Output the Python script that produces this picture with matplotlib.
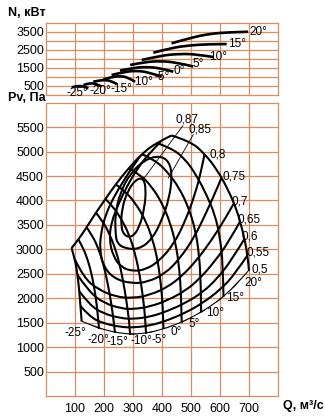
import matplotlib
matplotlib.use('Agg')
import matplotlib.pyplot as plt
from matplotlib.patches import Polygon, PathPatch
from matplotlib.path import Path

plt.rcParams['font.family'] = ['Liberation Sans', 'DejaVu Sans']

GRID = '#DE8B5F'

# ---------------- data ----------------
q_ticks = [100, 200, 300, 400, 500, 600, 700]
p_ticks = [500, 1000, 1500, 2000, 2500, 3000, 3500, 4000, 4500, 5000, 5500]
n_ticks = [500, 1500, 2500, 3500]

angles = ['-25°', '-20°', '-15°', '-10°', '-5°', '0°', '5°', '10°', '15°', '20°']

# power curves N(Q), kW
power_q = [
    [89, 103, 117, 132, 146],
    [129, 143, 158, 175, 192],
    [163, 183, 203, 224, 244],
    [198, 225, 255, 282, 307],
    [226, 270, 313, 356, 399],
    [255, 300, 347, 395, 439],
    [290, 340, 393, 450, 508],
    [330, 395, 462, 520, 577],
    [370, 430, 497, 560, 623],
    [433, 500, 566, 630, 697],
]
power_n = [
    [425, 480, 500, 470, 370],
    [553, 620, 650, 610, 460],
    [735, 800, 830, 780, 610],
    [870, 990, 1050, 980, 735],
    [1105, 1280, 1345, 1250, 1010],
    [1345, 1500, 1560, 1480, 1290],
    [1660, 1820, 1880, 1800, 1580],
    [1935, 2180, 2280, 2250, 2100],
    [2340, 2600, 2750, 2810, 2820],
    [2860, 3170, 3390, 3470, 3500],
]
power_lab = [(109, 138), (186, 221), (259, 332), (334, 719), (400, 995),
             (459, 1327), (524, 1714), (593, 2120), (659, 2820), (731, 3500)]

# pressure curves Pv(Q) per blade angle (from stall line down to the lower envelope)
blade_q = [
    [88, 100, 108, 114, 118, 122, 123],
    [112, 128, 145, 160, 171, 178, 183],
    [140, 160, 180, 198, 213, 225, 233, 238],
    [172, 195, 218, 240, 258, 272, 282, 288, 290],
    [205, 232, 260, 287, 308, 324, 335, 342, 345],
    [240, 275, 310, 343, 368, 386, 397, 403, 405],
    [285, 325, 365, 400, 428, 448, 460, 466, 468],
    [330, 375, 420, 460, 492, 515, 528, 534, 535],
    [380, 430, 480, 520, 555, 583, 600, 610, 612],
    [433, 497, 545, 590, 628, 658, 680, 695, 700],
]
blade_p = [
    [3025, 2800, 2500, 2200, 1900, 1600, 1520],
    [3200, 3030, 2770, 2430, 2050, 1700, 1375],
    [3450, 3280, 3030, 2700, 2300, 1900, 1550, 1295],
    [3750, 3580, 3330, 3000, 2600, 2150, 1750, 1450, 1250],
    [4030, 3870, 3620, 3300, 2900, 2450, 2000, 1600, 1275],
    [4330, 4180, 3930, 3600, 3200, 2750, 2250, 1800, 1370],
    [4660, 4530, 4280, 3950, 3550, 3100, 2600, 2050, 1500],
    [4950, 4830, 4580, 4250, 3850, 3400, 2900, 2300, 1710],
    [5180, 5080, 4850, 4500, 4100, 3700, 3250, 2700, 2030],
    [5330, 5210, 4970, 4630, 4220, 3810, 3340, 2900, 2560],
]
blade_lab = [(103, 1290), (180, 1147), (248, 1106), (328, 1117), (390, 1147),
             (448, 1311), (510, 1475), (583, 1700), (652, 2008), (714, 2315)]

# efficiency contours
eff_names = ['0,5', '0,55', '0,6', '0,65', '0,7', '0,75', '0,8', '0,85', '0,87']
eff_closed = [False, False, False, False, False, False, False, True, True]
eff_q = [
    [123, 180, 240, 300, 360, 420, 480, 540, 600, 650, 700],
    [118, 150, 200, 260, 300, 360, 420, 480, 540, 600, 650, 697],
    [114, 150, 200, 260, 300, 360, 420, 480, 540, 590, 640, 688],
    [108, 150, 200, 260, 300, 360, 420, 480, 530, 580, 630, 672],
    [100, 130, 180, 240, 300, 360, 420, 470, 520, 570, 615, 650],
    [330, 300, 265, 232, 205, 190, 185, 198, 235, 295, 350, 410, 460, 510, 555, 590, 610],
    [395, 355, 315, 280, 250, 225, 218, 232, 260, 300, 345, 390, 440, 482, 515, 535, 548],
    [240, 238, 255, 290, 340, 390, 425, 435, 425, 400, 365, 320, 270, 245],
    [258, 262, 282, 310, 335, 345, 340, 322, 298, 272],
]
eff_p = [
    [1520, 1380, 1290, 1250, 1290, 1390, 1530, 1720, 1960, 2230, 2560],
    [1850, 1620, 1480, 1410, 1400, 1440, 1550, 1700, 1900, 2170, 2480, 2900],
    [2150, 1860, 1680, 1590, 1575, 1620, 1740, 1900, 2120, 2400, 2780, 3250],
    [2480, 2120, 1900, 1790, 1775, 1830, 1960, 2150, 2400, 2740, 3150, 3600],
    [2790, 2420, 2180, 2030, 2000, 2070, 2230, 2460, 2780, 3180, 3600, 3960],
    [4950, 4700, 4380, 4050, 3700, 3350, 3000, 2650, 2400, 2300, 2330, 2500, 2800, 3230, 3780, 4250, 4530],
    [5200, 4960, 4650, 4300, 3930, 3550, 3200, 2850, 2630, 2550, 2590, 2760, 3100, 3600, 4150, 4600, 4980],
    [3300, 3700, 4150, 4550, 4830, 4920, 4800, 4500, 4050, 3600, 3200, 3000, 3020, 3130],
    [3450, 3850, 4200, 4430, 4460, 4250, 3850, 3450, 3250, 3270],
]
eff_lab = [(738, 2582), (731, 2930), (703, 3258), (700, 3606), (669, 3975),
           (648, 4490), (593, 4940), (531, 5450), (485, 5655)]
leader_q = [[508, 422], [472, 335]]
leader_p = [[5350, 4460], [5530, 4430]]


def smooth(qs, ps, closed=False):
    """Quadratic Bezier path using the read points as control points."""
    pts = list(zip(qs, ps))
    n = len(pts)
    mid = lambda a, b: ((a[0] + b[0]) / 2.0, (a[1] + b[1]) / 2.0)
    if closed:
        verts = [mid(pts[-1], pts[0])]
        codes = [Path.MOVETO]
        for i in range(n):
            verts += [pts[i], mid(pts[i], pts[(i + 1) % n])]
            codes += [Path.CURVE3, Path.CURVE3]
        return Path(verts, codes)
    if n < 3:
        return Path(pts)
    verts = [pts[0]]
    codes = [Path.MOVETO]
    for i in range(1, n - 1):
        end = mid(pts[i], pts[i + 1]) if i < n - 2 else pts[-1]
        verts += [pts[i], end]
        codes += [Path.CURVE3, Path.CURVE3]
    return Path(verts, codes)


# ---------------- figure ----------------
fig = plt.figure(figsize=(3.25, 4.19), dpi=100)
W, H = 325.0, 419.0
ax_n = fig.add_axes([46 / W, 1 - 95 / H, 232 / W, 72.3 / H])
ax_p = fig.add_axes([46 / W, 1 - 396 / H, 232 / W, 293.3 / H])


def style(ax, ymax, ystep):
    ax.set_xlim(0, 800)
    ax.set_ylim(0, ymax)
    for x in range(100, 800, 100):
        ax.axvline(x, color=GRID, lw=0.9, zorder=0)
    for y in range(ystep, ymax, ystep):
        ax.axhline(y, color=GRID, lw=0.9, zorder=0)
    for s in ax.spines.values():
        s.set_color(GRID)
        s.set_linewidth(0.9)
    ax.tick_params(length=0, labelsize=9, pad=1.5)


style(ax_n, 4000, 500)
style(ax_p, 6000, 500)

ax_n.set_xticks([])
ax_n.set_yticks(n_ticks)
ax_n.set_yticklabels([str(v) for v in n_ticks])

ax_p.set_yticks(p_ticks)
ax_p.set_yticklabels([str(v) for v in p_ticks])
ax_p.set_xticks(q_ticks)
ax_p.set_xticklabels([str(v) for v in q_ticks])
ax_p.tick_params(axis='x', pad=5)


def draw(ax, qs, ps, lw, closed=False, clip=None):
    patch = PathPatch(smooth(qs, ps, closed), facecolor='none', edgecolor='black',
                      lw=lw, zorder=3, joinstyle='round', capstyle='butt')
    ax.add_patch(patch)
    if clip is not None:
        patch.set_clip_path(clip)
    return patch


# power curves
for qs, ns in zip(power_q, power_n):
    draw(ax_n, qs, ns, 1.9)
for name, (x, y) in zip(angles, power_lab):
    ax_n.text(x, y, name, fontsize=8.5, ha='center', va='center', zorder=4, clip_on=False)

# envelope for clipping
stall_q = [q[0] for q in blade_q]
stall_p = [p[0] for p in blade_p]
env = (list(zip(stall_q, stall_p)) + list(zip(blade_q[-1], blade_p[-1]))[1:]
       + list(zip(eff_q[0], eff_p[0]))[::-1] + list(zip(blade_q[0], blade_p[0]))[::-1])
clip = Polygon(env, closed=True, transform=ax_p.transData, facecolor='none', edgecolor='none')
ax_p.add_patch(clip)

draw(ax_p, stall_q, stall_p, 1.5)
for qs, ps in zip(blade_q, blade_p):
    draw(ax_p, qs, ps, 1.5)
for qs, ps, c in zip(eff_q, eff_p, eff_closed):
    draw(ax_p, qs, ps, 1.5, closed=c, clip=clip)
for qs, ps in zip(leader_q, leader_p):
    ax_p.plot(qs, ps, color='black', lw=0.6, zorder=3)

for name, (x, y) in zip(angles, blade_lab):
    ax_p.text(x, y, name, fontsize=8.5, ha='center', va='center', zorder=4)
for name, (x, y) in zip(eff_names, eff_lab):
    ax_p.text(x, y, name, fontsize=8.5, ha='center', va='center', zorder=4, clip_on=False)

fig.text(8 / W, 1 - 12.7 / H, 'N, кВт', fontsize=9, fontweight='bold', ha='left', va='center')
fig.text(8 / W, 1 - 98 / H, 'Pv, Па', fontsize=9, fontweight='bold', ha='left', va='center')
fig.text(283 / W, 1 - 406 / H, 'Q, м³/с', fontsize=9, fontweight='bold', ha='left', va='center')

fig.savefig('out.png', dpi=100)
